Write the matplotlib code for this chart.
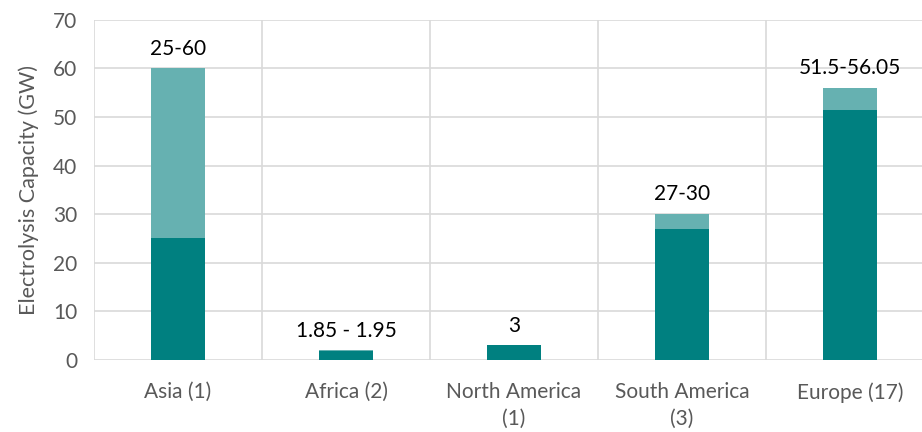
import matplotlib.pyplot as plt
import numpy as np

plt.rcParams['font.family'] = ['Lato', 'DejaVu Sans']

# Data
regions = ["Asia (1)", "Africa (2)", "North America\n(1)", "South America\n(3)", "Europe (17)"]
low_values = [25, 1.85, 3, 27, 51.5]
high_values = [60, 1.95, 3, 30, 56.05]
range_labels = ["25-60", "1.85 - 1.95", "3", "27-30", "51.5-56.05"]

base_color = '#008080'
top_color = '#66B1B1'
grid_color = '#D9D9D9'
text_grey = '#595959'

fig = plt.figure(figsize=(9.22, 4.32), dpi=100)
# right edge runs slightly past the figure, like the cropped original
ax = fig.add_axes([0.102, 0.167, 0.911, 0.787])

x = np.arange(len(regions))
extra = [h - l for l, h in zip(low_values, high_values)]
ax.bar(x, low_values, width=0.32, color=base_color, zorder=3)
ax.bar(x, extra, width=0.32, bottom=low_values, color=top_color, zorder=3)

for xi, top, lab in zip(x, high_values, range_labels):
    ax.annotate(lab, (xi, top), textcoords="offset points", xytext=(0, 7),
                ha='center', va='bottom', fontsize=15, color='black')

ax.set_xlim(-0.5, len(regions) - 0.5)
ax.set_ylim(0, 70)
ax.set_yticks(range(0, 71, 10))
ax.set_xticks(x)
ax.set_xticklabels(regions, linespacing=1.4)
ax.set_xticks(np.arange(-0.5, len(regions), 1), minor=True)

ax.grid(True, which='major', axis='y', color=grid_color, linewidth=1.2, zorder=0)
ax.grid(True, which='minor', axis='x', color=grid_color, linewidth=1.2, zorder=0)
ax.grid(False, which='major', axis='x')

for s in ax.spines.values():
    s.set_visible(False)

ax.tick_params(axis='both', which='both', length=0, colors=text_grey, labelsize=15)
ax.tick_params(axis='x', pad=16)
ax.tick_params(axis='y', pad=12)
ax.set_ylabel('Electrolysis Capacity (GW)', fontsize=15.5, color=text_grey, labelpad=10)

plt.savefig('out.png', dpi=100)
